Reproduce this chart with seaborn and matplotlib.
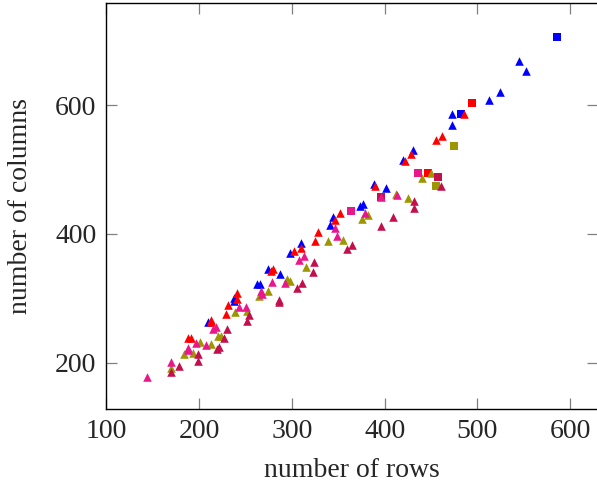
import numpy as np
import pandas as pd
import matplotlib
matplotlib.use("Agg")
import matplotlib.pyplot as plt
import seaborn as sns

# ---- data (number of rows, number of columns) ----
blue_tri_x = [209, 237, 237.5, 262, 265.5, 273.8, 287, 297.8, 309.4, 341, 344, 373.3, 377, 388.4, 401, 420, 430.8, 472.2, 472.8, 512, 524, 545, 552]
blue_tri_y = [264, 296, 300, 322, 322, 346, 338, 371, 386, 414, 427, 444, 447, 478, 471, 514.5, 530.5, 570, 586, 608, 621, 669, 653]
blue_sq_x = [482, 586]
blue_sq_y = [586, 706]

red_tri_x = [187.5, 191, 213, 212.3, 228.5, 231, 241, 241, 277.4, 279.2, 302.5, 309.4, 325, 328.4, 346.4, 352, 389.5, 421.8, 428, 455.3, 462, 486]
red_tri_y = [238, 238, 266, 263, 276, 289, 309, 299, 343, 346, 374, 378, 389, 403, 422, 432, 474, 513, 525, 546, 553, 586.5]
red_sq_x = [447, 494]
red_sq_y = [494, 604]

olive_tri_x = [170, 184, 193.6, 201, 212.3, 220.5, 223.4, 238.2, 251.2, 264.4, 274.5, 294.3, 297.8, 315, 339, 355.4, 375.8, 382.3, 412, 425.4, 439.8, 449.5]
olive_tri_y = [192, 213, 214.6, 232, 229.5, 242, 242, 278, 280, 303, 311, 330, 326.5, 348, 389, 391, 423, 429, 462, 455.5, 486.6, 494.5]
olive_sq_x = [474.3, 455]
olive_sq_y = [537, 474]

crimson_tri_x = [169.2, 178.2, 199, 199, 219.5, 221.6, 227, 230.2, 251.8, 253.3, 286.3, 286.3, 305, 310.5, 323, 324, 359, 364.4, 396, 408.6, 431.9, 431.9, 460.3]
crimson_tri_y = [185, 195, 202.6, 214, 221.3, 224, 239, 252.4, 265.3, 274, 297.4, 294.3, 316.6, 324.4, 340.5, 356, 376.7, 383, 413, 426, 451.3, 440.4, 475]
crimson_sq_x = [396, 457]
crimson_sq_y = [457, 489]

pink_tri_x = [144, 169.2, 187.5, 188.2, 196.5, 207.3, 215, 218, 242.9, 250.4, 266.2, 268, 278, 292.5, 307.9, 313.3, 346.4, 348.8, 378.7, 413, 396.5]
pink_tri_y = [178, 201, 220, 223, 230.6, 228, 252.4, 255.5, 287, 287, 311.4, 307, 325.4, 324.4, 360, 366, 409, 397, 433, 461, 457]
pink_sq_x = [364, 436]
pink_sq_y = [436, 494.3]

series_names = ["blue", "red", "olive", "crimson", "pink"]
palette = {"blue": "#0000FF", "red": "#FF0000", "olive": "#9C9600",
           "crimson": "#C2104C", "pink": "#E8178C"}

groups = [
    ("blue", blue_tri_x, blue_tri_y, blue_sq_x, blue_sq_y),
    ("red", red_tri_x, red_tri_y, red_sq_x, red_sq_y),
    ("olive", olive_tri_x, olive_tri_y, olive_sq_x, olive_sq_y),
    ("crimson", crimson_tri_x, crimson_tri_y, crimson_sq_x, crimson_sq_y),
    ("pink", pink_tri_x, pink_tri_y, pink_sq_x, pink_sq_y),
]

frames = []
for name, tx, ty, sx, sy in groups:
    frames.append(pd.DataFrame({"rows": tx, "cols": ty, "series": name, "kind": "tri"}))
    frames.append(pd.DataFrame({"rows": sx, "cols": sy, "series": name, "kind": "sq"}))
df = pd.concat(frames, ignore_index=True)

sns.set_style("white")
plt.rcParams["font.family"] = ["Liberation Serif", "DejaVu Serif"]
plt.rcParams["mathtext.fontset"] = "stix"

fig = plt.figure(figsize=(5.97, 4.88), dpi=100)
ax = fig.add_axes([0.1776, 0.1613, 0.8241, 0.8332])

for name in series_names:
    sub = df[df["series"] == name]
    t = sub[sub["kind"] == "tri"]
    s = sub[sub["kind"] == "sq"]
    sns.scatterplot(data=t, x="rows", y="cols", color=palette[name], marker="^",
                    s=38, linewidth=0, ax=ax, legend=False, zorder=3)
    sns.scatterplot(data=s, x="rows", y="cols", color=palette[name], marker="s",
                    s=36, linewidth=0, ax=ax, legend=False, zorder=3)

ax.set_xlim(99.5, 630)
ax.set_ylim(127.6, 759.4)
ax.set_xticks([100, 200, 300, 400, 500, 600])
ax.set_yticks([200, 400, 600])
ax.tick_params(axis="both", which="major", direction="in", length=8, width=0.9,
               color="#808080", labelsize=20, pad=7,
               top=True, right=True, bottom=True, left=True)
for side in ["left", "bottom", "top", "right"]:
    ax.spines[side].set_color("black")
    ax.spines[side].set_linewidth(1.0)
ax.set_xlabel("number of rows", fontsize=20, labelpad=10)
ax.set_ylabel("number of columns", fontsize=20, labelpad=16)
ax.grid(False)

fig.savefig("out.png", dpi=100)
